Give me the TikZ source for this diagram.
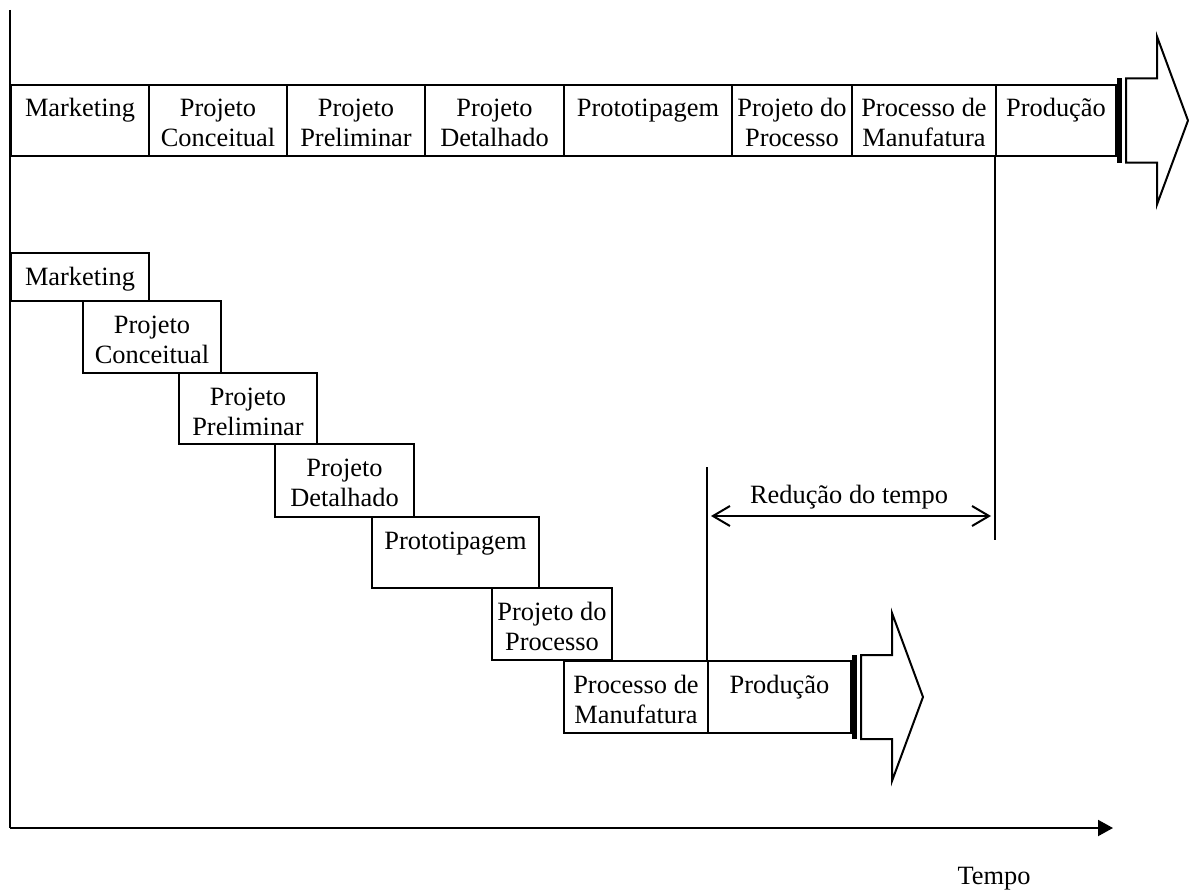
\documentclass[tikz,border=0pt]{standalone}
\usepackage{fontspec}
\setmainfont{Liberation Serif}
\usetikzlibrary{arrows.meta}
\newcommand{\celltext}[1]{\parbox[t]{200pt}{\centering #1}}
\begin{document}
\begin{tikzpicture}[x=1pt,y=-1pt,
  font=\fontsize{26.4}{30}\selectfont,
  line width=2pt,
  cell/.style={draw, line width=2pt, inner sep=0pt, anchor=north west},
  lbl/.style={inner sep=0pt, anchor=base},
  arrowshape/.style={draw, line width=2pt, line join=miter},
  barshape/.style={fill=black}]
\useasboundingbox (0,0) rectangle (1189,891);

% ---------- top row (sequential) ----------
\node[cell, minimum width=138pt, minimum height=71pt] (t1) at (10,84) {};
\node[cell, minimum width=138pt, minimum height=71pt] (t2) at (148,84) {};
\node[cell, minimum width=138pt, minimum height=71pt] (t3) at (286,84) {};
\node[cell, minimum width=139pt, minimum height=71pt] (t4) at (424,84) {};
\node[cell, minimum width=168pt, minimum height=71pt] (t5) at (563,84) {};
\node[cell, minimum width=120pt, minimum height=71pt] (t6) at (731,84) {};
\node[cell, minimum width=144pt, minimum height=71pt] (t7) at (851,84) {};
\node[cell, minimum width=120pt, minimum height=71pt] (t8) at (995,84) {};

\node[lbl] (t1l) at ([yshift=-33pt]t1.north) {\celltext{Marketing}};
\node[lbl] (t2l) at ([yshift=-33pt]t2.north) {\celltext{Projeto\\Conceitual}};
\node[lbl] (t3l) at ([yshift=-33pt]t3.north) {\celltext{Projeto\\Preliminar}};
\node[lbl] (t4l) at ([yshift=-33pt]t4.north) {\celltext{Projeto\\Detalhado}};
\node[lbl] (t5l) at ([yshift=-33pt]t5.north) {\celltext{Prototipagem}};
\node[lbl] (t6l) at ([yshift=-33pt]t6.north) {\celltext{Projeto do\\Processo}};
\node[lbl] (t7l) at ([yshift=-33pt]t7.north) {\celltext{Processo de\\Manufatura}};
\node[lbl] (t8l) at ([yshift=-33pt]t8.north) {\celltext{Produção}};

\begin{scope}[shift={(t8.east)}]
  \fill[barshape] (0,-42) rectangle (5,42);
  \draw[arrowshape] (9,-42) -- (40,-42) -- (40,-84) -- (71,0) -- (40,84) -- (40,42) -- (9,42) -- cycle;
\end{scope}

% ---------- staircase (concurrent) ----------
\node[cell, minimum width=138pt, minimum height=48pt] (s1) at (10,252) {};
\node[cell, minimum width=138pt, minimum height=72pt] (s2) at (82,300) {};
\node[cell, minimum width=138pt, minimum height=71pt] (s3) at (178,372) {};
\node[cell, minimum width=139pt, minimum height=73pt] (s4) at (274,443) {};
\node[cell, minimum width=167pt, minimum height=71pt] (s5) at (371,516) {};
\node[cell, minimum width=120pt, minimum height=72pt] (s6) at (491,587) {};
\node[cell, minimum width=144pt, minimum height=72pt] (s7) at (563,660) {};
\node[cell, minimum width=143pt, minimum height=72pt] (s8) at (707,660) {};

\node[lbl] (s1l) at ([yshift=-33pt]s1.north) {\celltext{Marketing}};
\node[lbl] (s2l) at ([yshift=-33pt]s2.north) {\celltext{Projeto\\Conceitual}};
\node[lbl] (s3l) at ([yshift=-33pt]s3.north) {\celltext{Projeto\\Preliminar}};
\node[lbl] (s4l) at ([yshift=-33pt]s4.north) {\celltext{Projeto\\Detalhado}};
\node[lbl] (s5l) at ([yshift=-33pt]s5.north) {\celltext{Prototipagem}};
\node[lbl] (s6l) at ([yshift=-33pt]s6.north) {\celltext{Projeto do\\Processo}};
\node[lbl] (s7l) at ([yshift=-33pt]s7.north) {\celltext{Processo de\\Manufatura}};
\node[lbl] (s8l) at ([yshift=-33pt]s8.north) {\celltext{Produção}};

\begin{scope}[shift={(s8.east)}]
  \fill[barshape] (0,-42) rectangle (5,42);
  \draw[arrowshape] (9,-42) -- (40,-42) -- (40,-84) -- (71,0) -- (40,84) -- (40,42) -- (9,42) -- cycle;
\end{scope}

% ---------- time reduction ----------
\coordinate (r1) at (707,467);
\coordinate (r2) at (995,540);
\draw (r1) -- (s8.north west);
\draw (t8.south west) -- (r2);
\coordinate (a1) at (711,516);
\coordinate (a2) at (991,516);
\draw[{Straight Barb[length=17pt,width=20pt]}-{Straight Barb[length=17pt,width=20pt]}] (a1) -- (a2);
\node[lbl] (red) at (849,503) {Redução do tempo};

% ---------- axes ----------
\coordinate (ytop) at (10,10);
\coordinate (o) at (10,828);
\coordinate (xend) at (1113,828);
\draw (ytop) -- (o);
\draw[-{Triangle[length=15pt,width=16pt]}] (o) -- (xend);
\node[lbl] (tempo) at (994,884) {Tempo};
\end{tikzpicture}
\end{document}
